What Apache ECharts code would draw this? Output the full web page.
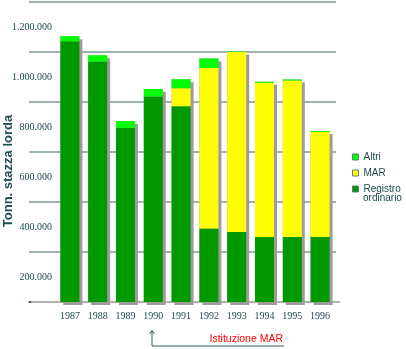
<!DOCTYPE html>
<html>
<head>
<meta charset="utf-8">
<script src="https://cdn.jsdelivr.net/npm/echarts@6/dist/echarts.min.js"></script>
<style>
  html, body { margin: 0; padding: 0; background: #ffffff; }
  #chart { width: 406px; height: 349px; }
</style>
</head>
<body>
<div id="chart"></div>
<script>
// Tonnellaggio di stazza lorda per registro, 1987-1996
const years = ['1987', '1988', '1989', '1990', '1991', '1992', '1993', '1994', '1995', '1996'];
const registro = [1143000, 1062000, 796000, 922000, 883000, 394000, 380000, 360000, 360000, 360000];
const mar = [0, 0, 0, 0, 72000, 642000, 720000, 617000, 626000, 420000];
const altri = [20000, 25000, 28000, 30000, 36000, 38000, 2000, 4000, 4000, 4000];

// Totale per anno: serve solo a proiettare l'ombra dietro la colonna impilata
const totals = years.map((_, i) => registro[i] + mar[i] + altri[i]);

const ink = '#1a4a4a';
const fmt = v => String(v).replace(/\B(?=(\d{3})+(?!\d))/g, '.');

const chart = echarts.init(document.getElementById('chart'), null, { renderer: 'canvas' });

const topPx = 2, bottomPx = 47;

chart.setOption({
  animation: false,
  backgroundColor: '#ffffff',
  grid: [
    { left: 29, right: 70, top: topPx, bottom: bottomPx },   // griglia orizzontale
    { left: 56, right: 72, top: topPx, bottom: bottomPx },   // colonne
    { left: 32, right: 67, top: topPx, bottom: bottomPx }    // base grigia
  ],
  xAxis: [
    {
      gridIndex: 0, type: 'category', data: [''],
      axisLine: { show: true, lineStyle: { color: '#1f4f4f', width: 1.5 } },
      axisTick: { show: false }, axisLabel: { show: false }
    },
    {
      gridIndex: 1, type: 'category', data: years,
      axisLine: { show: false }, axisTick: { show: false },
      axisLabel: { color: ink, fontFamily: 'Liberation Serif', fontSize: 10, margin: 9 }
    },
    {
      gridIndex: 2, type: 'category', data: [''], offset: 3,
      axisLine: { show: true, lineStyle: { color: '#b4b0b0', width: 2 } },
      axisTick: { show: false }, axisLabel: { show: false }
    }
  ],
  yAxis: [
    {
      gridIndex: 0, type: 'value', min: 100000, max: 1300000, interval: 200000,
      axisLine: { show: false }, axisTick: { show: false }, axisLabel: { show: false },
      splitLine: { show: true, lineStyle: { color: '#7f9894', width: 1.5 } }
    },
    {
      gridIndex: 1, type: 'value', min: 100000, max: 1300000, interval: 100000,
      axisLine: { show: false }, axisTick: { show: false },
      splitLine: { show: false },
      axisLabel: {
        color: ink, fontFamily: 'Liberation Serif', fontSize: 10, margin: 4,
        formatter: v => (v % 200000 === 0 ? fmt(v) : '')
      }
    },
    { gridIndex: 2, type: 'value', show: false }
  ],
  legend: {
    orient: 'vertical', left: 352, top: 151, padding: 0,
    itemWidth: 6, itemHeight: 6, itemGap: 4,
    icon: 'rect',
    itemStyle: { borderColor: '#5f7f7f', borderWidth: 1 },
    textStyle: { color: ink, fontFamily: 'Liberation Sans', fontSize: 10, lineHeight: 12 },
    formatter: name => (name === 'Registro ordinario' ? 'Registro' : name),
    data: ['Altri', 'MAR', 'Registro ordinario']
  },
  series: [
    {
      name: 'Totale', type: 'bar', xAxisIndex: 1, yAxisIndex: 1,
      data: totals, barWidth: 19, barGap: '-100%', z: 1, silent: true,
      itemStyle: {
        color: '#a09a9c', shadowColor: '#a09a9c',
        shadowOffsetX: 3, shadowOffsetY: 3, shadowBlur: 0
      }
    },
    {
      name: 'Registro ordinario', type: 'bar', stack: 'tsl', xAxisIndex: 1, yAxisIndex: 1,
      data: registro, barWidth: 19, z: 2, itemStyle: { color: '#009900' }
    },
    {
      name: 'MAR', type: 'bar', stack: 'tsl', xAxisIndex: 1, yAxisIndex: 1,
      data: mar, barWidth: 19, z: 2, itemStyle: { color: '#ffff00' }
    },
    {
      name: 'Altri', type: 'bar', stack: 'tsl', xAxisIndex: 1, yAxisIndex: 1,
      data: altri, barWidth: 19, z: 2, itemStyle: { color: '#00ff00' }
    }
  ],
  graphic: [
    {
      type: 'text', x: 8, y: 171, rotation: Math.PI / 2,
      style: {
        text: 'Tonn. stazza lorda', fill: '#1f5050',
        font: 'bold 13px "Liberation Sans", Arial, sans-serif',
        align: 'center', verticalAlign: 'middle'
      }
    },
    {
      // seconda riga della voce di legenda "Registro ordinario"
      type: 'text', x: 363, y: 198,
      style: {
        text: 'ordinario', fill: ink,
        font: '10px "Liberation Sans", Arial, sans-serif',
        align: 'left', verticalAlign: 'middle'
      }
    },
    {
      type: 'polyline',
      shape: { points: [[152, 331], [152, 346], [284, 346]] },
      style: { stroke: '#2f5f5f', lineWidth: 1, fill: null }
    },
    {
      type: 'polyline',
      shape: { points: [[149.5, 334], [152, 330.5], [154.5, 334]] },
      style: { stroke: '#2f5f5f', lineWidth: 1, fill: null }
    },
    {
      type: 'text', x: 283, y: 339,
      style: {
        text: 'Istituzione MAR', fill: '#ff0000',
        font: '10.5px "Liberation Sans", Arial, sans-serif',
        align: 'right', verticalAlign: 'middle'
      }
    }
  ]
});
</script>
</body>
</html>
